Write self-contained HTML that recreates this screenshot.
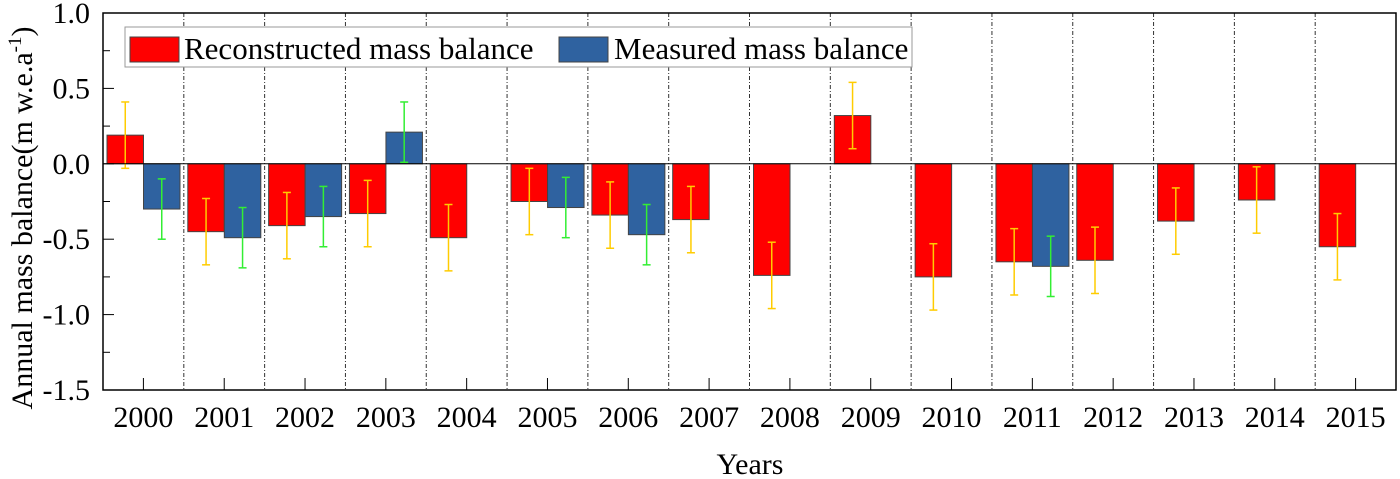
<!DOCTYPE html>
<html><head><meta charset="utf-8"><style>
body{margin:0;background:#fff;}
svg{display:block;font-family:"Liberation Serif",serif;}
</style></head><body>
<svg id="chart" width="1400" height="479" xmlns="http://www.w3.org/2000/svg"></svg>
<script>
const years=["2000","2001","2002","2003","2004","2005","2006","2007","2008","2009","2010","2011","2012","2013","2014","2015"];
const reconstructed=[0.19,-0.45,-0.41,-0.33,-0.49,-0.25,-0.34,-0.37,-0.74,0.32,-0.75,-0.65,-0.64,-0.38,-0.24,-0.55];
const reconErr=[0.22,0.22,0.22,0.22,0.22,0.22,0.22,0.22,0.22,0.22,0.22,0.22,0.22,0.22,0.22,0.22];
const measured=[-0.30,-0.49,-0.35,0.21,null,-0.29,-0.47,null,null,null,null,-0.68,null,null,null,null];
const measErr=[0.2,0.2,0.2,0.2,null,0.2,0.2,null,null,null,null,0.2,null,null,null,null];
const yTicks=[1.0,0.5,0.0,-0.5,-1.0,-1.5];
const yTickLabels=["1.0","0.5","0.0","-0.5","-1.0","-1.5"];

const NS="http://www.w3.org/2000/svg";
const svg=document.getElementById('chart');
const L=103,R=1396,T=13,B=390,ymin=-1.5,ymax=1.0;
const slot=(R-L)/years.length;
const y=v=>B-(v-ymin)/(ymax-ymin)*(B-T);
const x=i=>L+i*slot;
function mk(tag,attrs,parent){const e=document.createElementNS(NS,tag);for(const k in attrs)e.setAttribute(k,attrs[k]);(parent||svg).appendChild(e);return e;}

for(let i=1;i<years.length;i++){
  const s=mk('line',{x1:x(i),x2:x(i),y1:T,y2:B,stroke:'#333','stroke-width':1,'stroke-dasharray':'4,2,1,2'});
  
  
}
const bw=36.5;
years.forEach((yr,i)=>{
  const v=reconstructed[i];
  const bx=x(i)+4;
  const r=mk('rect',{x:bx,y:Math.min(y(v),y(0)),width:bw,height:Math.abs(y(v)-y(0)),fill:'#ff0000',stroke:'#444','stroke-width':1});
  
  
  const cx=bx+bw/2,e=reconErr[i];
  const g=mk('g',{stroke:'#ffcc00','stroke-width':1.5});
  
  
  mk('line',{x1:cx,x2:cx,y1:y(v+e),y2:y(v-e)},g);
  mk('line',{x1:cx-4,x2:cx+4,y1:y(v+e),y2:y(v+e)},g);
  mk('line',{x1:cx-4,x2:cx+4,y1:y(v-e),y2:y(v-e)},g);
  const m=measured[i];
  if(m!==null){
    const mx=bx+bw;
    const b=mk('rect',{x:mx,y:Math.min(y(m),y(0)),width:bw,height:Math.abs(y(m)-y(0)),fill:'#2f62a0',stroke:'#444','stroke-width':1});
    
    
    const mc=mx+bw/2,me=measErr[i];
    const g2=mk('g',{stroke:'#33ee33','stroke-width':1.5});
    
    
    mk('line',{x1:mc,x2:mc,y1:y(m+me),y2:y(m-me)},g2);
    mk('line',{x1:mc-4,x2:mc+4,y1:y(m+me),y2:y(m+me)},g2);
    mk('line',{x1:mc-4,x2:mc+4,y1:y(m-me),y2:y(m-me)},g2);
  }
  const t=mk('text',{x:x(i)+slot/2,y:427,'font-size':30,'text-anchor':'middle',fill:'#000'});
  t.textContent=yr;
  
  
  mk('line',{x1:x(i)+slot/2,x2:x(i)+slot/2,y1:B,y2:B-12,stroke:'#000','stroke-width':1});
});
const z=mk('line',{x1:L,x2:R,y1:y(0),y2:y(0),stroke:'#000','stroke-width':1});


for(let v=-1.5;v<=1.0001;v+=0.25){
  const major=Math.abs(v*2-Math.round(v*2))<1e-6;
  mk('line',{x1:L,x2:L+(major?11:7),y1:y(v),y2:y(v),stroke:'#000','stroke-width':1});
}
yTicks.forEach((v,i)=>{
  const t=mk('text',{x:90,y:y(v)+10,'font-size':30,'text-anchor':'end',fill:'#000'});
  t.textContent=yTickLabels[i];
  
  
});
const f=mk('rect',{x:L,y:T,width:R-L,height:B-T,fill:'none',stroke:'#000','stroke-width':1.5});


</script>
<svg style="position:absolute;left:0;top:0" width="1400" height="479" xmlns="http://www.w3.org/2000/svg" font-family="Liberation Serif, serif">
  <g>
    <rect x="125" y="27" width="787" height="40" fill="#fff" stroke="#999" stroke-width="1"/>
    <rect x="130" y="37" width="49" height="25" fill="#ff0000" stroke="#444"/>
    <text x="184" y="59" font-size="31">Reconstructed mass balance</text>
    <rect x="559" y="37" width="49" height="25" fill="#2f62a0" stroke="#444"/>
    <text x="614" y="59" font-size="31">Measured mass balance</text>
  </g>
  <text x="750" y="474" font-size="30" text-anchor="middle">Years</text>
  <text transform="translate(32,218) rotate(-90)" font-size="30" text-anchor="middle">Annual mass balance(m w.e.a<tspan dy="-11" font-size="19">-1</tspan><tspan dy="11">)</tspan></text>
</svg>
</body></html>
